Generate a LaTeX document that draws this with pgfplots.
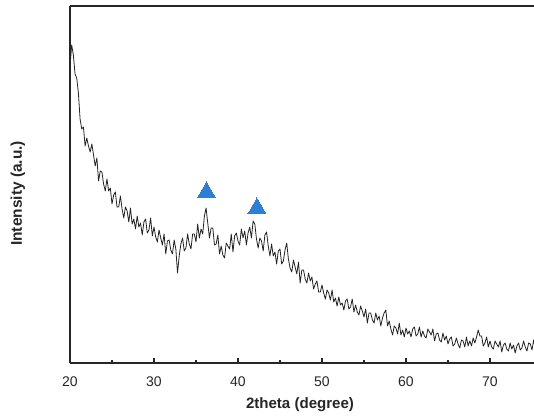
\documentclass[border=0pt]{standalone}
\usepackage{pgfplots}
\pgfplotsset{compat=1.18}
\usepackage{fontspec}
\setmainfont{Liberation Sans}
\definecolor{tri}{RGB}{45,127,212}
\definecolor{trace}{RGB}{35,35,35}
\begin{document}
\begin{tikzpicture}
\begin{axis}[
  scale only axis, width=348pt, height=267.75pt,
  xmin=20, xmax=75.24, ymin=0, ymax=357,
  axis y line*=left,
  axis line style={line width=1.4pt, black!85},
  xtick={20,30,40,50,60,70},
  minor x tick num=1,
  xtick pos=bottom,
  ytick=\empty,
  tick align=inside,
  major tick length=3.5pt, minor tick length=2.5pt,
  tick style={line width=1.1pt, black!85},
  /pgf/number format/assume math mode=true,
  xticklabel style={font=\fontsize{10.5}{12}\selectfont, anchor=center, yshift=-14.25pt, text=black!85},
  every axis x label/.style={at={(axis description cs:0.4957,-0.1176)}, anchor=center, font=\bfseries\fontsize{11.3}{13}\selectfont, text=black!85},
  every axis y label/.style={at={(axis description cs:-0.1121,0.475)}, rotate=90, anchor=center, font=\bfseries\fontsize{11.6}{13}\selectfont, text=black!85},
  xlabel={2theta (degree)},
  ylabel={Intensity (a.u.)},
]
\addplot[trace, line width=0.6pt, line join=round] table {
20.0 296
20.2 318
20.4 308
20.6 289
20.8 285
21.0 270
21.2 244
21.4 234
21.6 236
21.8 217
22.0 225
22.2 217
22.4 211
22.6 219
22.8 208
23.0 197
23.2 205
23.4 182
23.6 192
23.8 191
24.0 179
24.2 172
24.4 184
24.6 172
24.8 175
25.0 159
25.2 168
25.4 171
25.6 156
25.8 156
26.0 167
26.2 154
26.4 145
26.6 156
26.8 152
27.0 141
27.2 155
27.4 139
27.6 144
27.8 134
28.0 147
28.2 136
28.4 140
28.6 128
28.8 141
29.0 144
29.2 130
29.4 133
29.6 145
29.8 127
30.0 136
30.2 126
30.4 121
30.6 133
30.8 125
31.0 118
31.2 129
31.4 109
31.6 122
31.8 123
32.0 113
32.2 109
32.4 123
32.6 114
32.8 90
33.0 107
33.2 119
33.4 125
33.6 112
33.8 115
34.0 129
34.2 119
34.4 114
34.6 129
34.8 129
35.0 121
35.2 139
35.4 125
35.6 134
35.8 129
36.0 147
36.2 155
36.4 140
36.6 125
36.8 135
37.0 135
37.2 118
37.4 119
37.6 128
37.8 109
38.0 117
38.2 108
38.4 105
38.6 120
38.8 117
39.0 114
39.2 129
39.4 111
39.6 127
39.8 130
40.0 122
40.2 118
40.4 134
40.6 125
40.8 132
41.0 118
41.2 130
41.4 136
41.6 125
41.8 142
42.0 139
42.2 124
42.4 115
42.6 125
42.8 122
43.0 112
43.2 128
43.4 131
43.6 117
43.8 107
44.0 119
44.2 107
44.4 111
44.6 99
44.8 112
45.0 114
45.2 99
45.4 102
45.6 113
45.8 120
46.0 104
46.2 95
46.4 91
46.6 103
46.8 96
47.0 89
47.2 101
47.4 80
47.6 93
47.8 93
48.0 84
48.2 80
48.4 90
48.6 82
48.8 86
49.0 74
49.2 79
49.4 82
49.6 71
49.8 71
50.0 78
50.2 70
50.4 64
50.6 73
50.8 70
51.0 63
51.2 73
51.4 61
51.6 65
51.8 57
52.0 66
52.2 58
52.4 60
52.6 53
52.8 62
53.0 64
53.2 54
53.4 56
53.6 64
53.8 51
54.0 58
54.2 51
54.4 48
54.6 57
54.8 52
55.0 46
55.2 54
55.4 40
55.6 50
55.8 50
56.0 43
56.2 40
56.4 50
56.6 43
56.8 47
57.0 37
57.2 45
57.4 50
57.6 53
57.8 37
58.0 42
58.2 34
58.4 28
58.6 37
58.8 35
59.0 29
59.2 40
59.4 28
59.6 33
59.8 26
60.0 35
60.2 29
60.4 32
60.6 26
60.8 34
61.0 36
61.2 27
61.4 29
61.6 36
61.8 26
62.0 32
62.2 27
62.4 25
62.6 34
62.8 31
63.0 28
63.2 34
63.4 22
63.6 29
63.8 30
64.0 23
64.2 21
64.4 30
64.6 23
64.8 27
65.0 19
65.2 24
65.4 26
65.6 17
65.8 19
66.0 25
66.2 19
66.4 15
66.6 23
66.8 22
67.0 16
67.2 26
67.4 17
67.6 22
67.8 17
68.0 25
68.2 20
68.4 26
68.6 33
68.8 27
69.0 27
69.2 17
69.4 20
69.6 26
69.8 16
70.0 22
70.2 16
70.4 14
70.6 22
70.8 19
71.0 16
71.2 22
71.4 11
71.6 18
71.8 20
72.0 14
72.2 12
72.4 20
72.6 14
72.8 18
73.0 10
73.2 17
73.4 20
73.6 13
73.8 15
74.0 22
74.2 16
74.4 12
74.6 20
74.8 19
75.0 13
75.2 23
75.4 14
};
\addplot[only marks, mark=triangle*, mark size=7.8pt, mark options={fill=tri, draw=tri, line width=0pt}] table {
36.25 170.6
42.26 154.6
};
\end{axis}
\path (current axis.south west) ++(-52.5pt,-42.75pt) coordinate (bbA);
\path (current axis.north east) ++(0pt,4.5pt) coordinate (bbB);
\pgfresetboundingbox
\path[use as bounding box] (bbA) rectangle (bbB);
\end{tikzpicture}
\end{document}
